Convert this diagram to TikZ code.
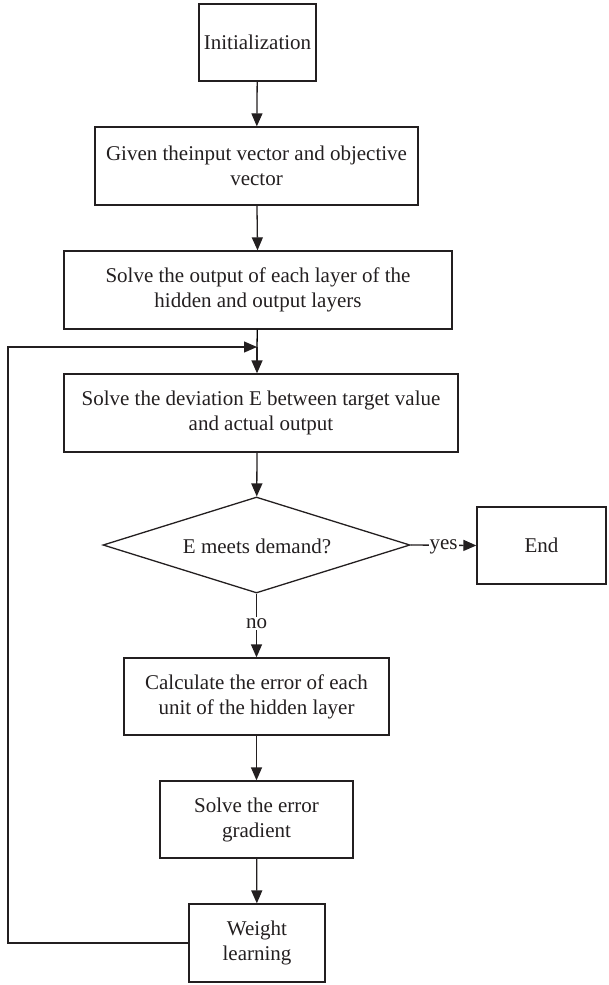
\documentclass[tikz,border=0pt]{standalone}
\usepackage{fontspec}
\setmainfont{Liberation Serif}
\usetikzlibrary{arrows.meta,shapes.geometric}
\definecolor{ink}{HTML}{231F20}
\begin{document}
\begin{tikzpicture}[x=1pt,y=-1pt,
  line width=1.3pt,
  every node/.style={font=\fontsize{21}{25}\selectfont, text=ink},
  box/.style={draw=ink, align=center, inner sep=0pt},
  link/.style={draw=ink, -{Triangle[length=13pt,width=11pt]}}]
\useasboundingbox (0,0) rectangle (608,985);
% process boxes
\node[box, minimum width=117pt, minimum height=77pt] (init) at (257.5,42.5) {Initialization};
\node[box, minimum width=323pt, minimum height=78pt] (given) at (256.5,166) {Given theinput vector and objective\\vector};
\node[box, minimum width=388pt, minimum height=78pt] (hidden) at (258,290) {Solve the output of each layer of the\\hidden and output layers};
\node[box, minimum width=394pt, minimum height=78pt] (dev) at (261,413) {Solve the deviation E between target value\\and actual output};
% decision
\node[box, shape=diamond, aspect=3.2, minimum width=307pt, minimum height=96pt] (dec) at (256.5,545) {};
\node at (257,546) {E meets demand?};
\node[box, minimum width=129pt, minimum height=77pt] (end) at (541.5,545.5) {End};
\node[box, minimum width=265pt, minimum height=77pt] (err) at (256.5,696.5) {Calculate the error of each\\unit of the hidden layer};
\node[box, minimum width=193pt, minimum height=77pt] (grad) at (256.5,819.5) {Solve the error\\gradient};
\node[box, minimum width=136pt, minimum height=78pt] (wl) at (257,943) {Weight\\learning};
% loop-back point above the deviation box
\coordinate (back) at (257,347);
\coordinate (corner) at (8,347);
% connectors
\draw[link] (init) -- (given);
\draw[link] (given) -- (hidden);
\draw (hidden) -- (back);
\draw[link] (back) -- (dev.north -| back);
\draw[link] (dev.south -| back) -- (dec);
\draw[link] (dec.east) -- node[fill=white, inner xsep=1pt, inner ysep=0pt, yshift=-2pt] {yes} (end.west);
\draw[link] (dec.south) -- node[fill=white, inner xsep=1pt, inner ysep=1pt, yshift=2pt] {no} (err.north);
\draw[link] (err) -- (grad);
\draw[link] (grad) -- (wl);
\draw[link] (wl.west) -| (corner) -- (back);
\end{tikzpicture}
\end{document}
